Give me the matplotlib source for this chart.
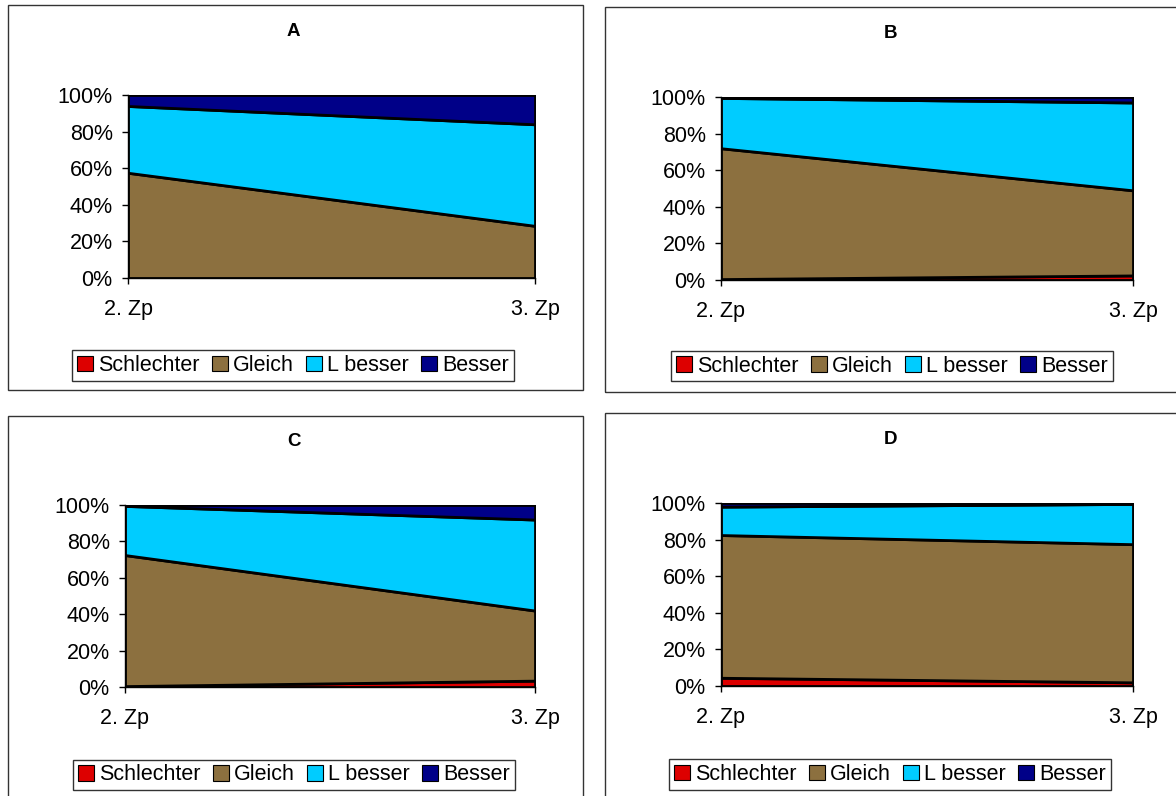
import matplotlib
matplotlib.use("Agg")
import matplotlib.pyplot as plt
from matplotlib.patches import Rectangle
from matplotlib.ticker import FuncFormatter
import numpy as np

plt.rcParams['font.family'] = ['Liberation Sans', 'DejaVu Sans']

categories = ["2. Zp", "3. Zp"]
series_names = ["Schlechter", "Gleich", "L besser", "Besser"]
colors = ["#DD0000", "#8C703F", "#00CCFF", "#000088"]

# shares per period (percent), one list per series
a_schlechter = [0.0, 0.0]
a_gleich = [57.5, 28.5]
a_lbesser = [36.5, 55.5]
a_besser = [6.0, 16.0]

b_schlechter = [0.5, 2.5]
b_gleich = [71.5, 46.5]
b_lbesser = [27.5, 48.0]
b_besser = [0.5, 3.0]

c_schlechter = [0.5, 3.5]
c_gleich = [72.0, 38.5]
c_lbesser = [27.0, 50.0]
c_besser = [0.5, 8.0]

d_schlechter = [4.5, 2.0]
d_gleich = [78.0, 75.5]
d_lbesser = [15.5, 22.0]
d_besser = [2.0, 0.5]

panels = [
    ("A", [a_schlechter, a_gleich, a_lbesser, a_besser]),
    ("B", [b_schlechter, b_gleich, b_lbesser, b_besser]),
    ("C", [c_schlechter, c_gleich, c_lbesser, c_besser]),
    ("D", [d_schlechter, d_gleich, d_lbesser, d_besser]),
]

W, H = 1176, 796
fig = plt.figure(figsize=(W / 100, H / 100), dpi=100)


def frac_rect(x0, y0, x1, y1):
    return [x0 / W, 1 - y1 / H, (x1 - x0) / W, (y1 - y0) / H]


# panel frames (pixels): outer box, plot area, legend centre
layout = [
    ((8, 5, 583, 390), (128, 95, 535, 278), (293, 365.5)),
    ((605, 7, 1180, 392), (721, 97, 1133, 280), (892, 366)),
    ((8, 416, 583, 800), (125, 505, 535, 687), (294, 775)),
    ((605, 413, 1180, 800), (721, 503, 1133, 686), (890, 774.5)),
]

FS = 15.5
x = np.arange(len(categories))

for (title, values), (box, area, leg) in zip(panels, layout):
    bx0, by0, bx1, by1 = box
    fig.patches.append(Rectangle((bx0 / W, 1 - by1 / H), (bx1 - bx0) / W, (by1 - by0) / H,
                                 transform=fig.transFigure, fill=False,
                                 edgecolor="#333333", linewidth=1.0))
    ax = fig.add_axes(frac_rect(*area))
    ax.stackplot(x, *values, labels=series_names, colors=colors,
                 edgecolor="black", linewidth=2.0)
    ax.set_xlim(0, 1)
    ax.set_ylim(0, 100)
    ax.set_yticks([0, 20, 40, 60, 80, 100])
    ax.yaxis.set_major_formatter(FuncFormatter(lambda v, p: f"{int(v)}%"))
    ax.set_xticks(x)
    ax.set_xticklabels(categories)
    ax.tick_params(axis="both", labelsize=FS, colors="black", length=4, width=1)
    ax.tick_params(axis="x", pad=11)
    ax.tick_params(axis="y", pad=7)
    for s in ("top", "right"):
        ax.spines[s].set_visible(False)
    for s in ("left", "bottom"):
        ax.spines[s].set_color("black")
        ax.spines[s].set_linewidth(1.0)
    ax.set_facecolor("white")

    cx = (bx0 + bx1) / 2 - 2
    fig.text(cx / W, 1 - (by0 + 26) / H, title, ha="center", va="center",
             fontsize=13.5, fontweight="bold")

    handles = [Rectangle((0, 0), 1, 1, facecolor=c, edgecolor="black", linewidth=0.8)
               for c in colors]
    fig.legend(handles, series_names, loc="center",
               bbox_to_anchor=(leg[0] / W, 1 - leg[1] / H),
               ncol=4, fontsize=FS, frameon=True, fancybox=False,
               edgecolor="black", handlelength=0.75, handleheight=0.75,
               handletextpad=0.25, columnspacing=0.55, borderpad=0.22,
               borderaxespad=0)

fig.savefig("out.png", dpi=100, facecolor="white")
